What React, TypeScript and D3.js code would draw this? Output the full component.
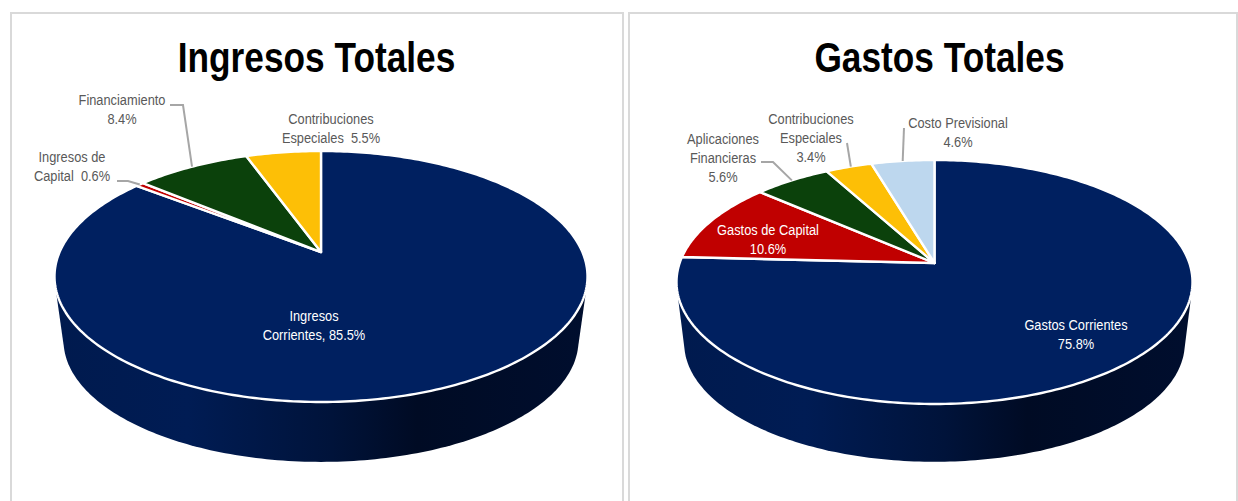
import React, { useEffect, useRef } from 'react'
import * as d3 from 'd3'

// ---- data
const ingresosValues = [85.5, 0.6, 8.4, 5.5]
const ingresosText = [
  ['Ingresos', 'Corrientes, 85.5%'],
  ['Ingresos de', 'Capital  0.6%'],
  ['Financiamiento', '8.4%'],
  ['Contribuciones', 'Especiales  5.5%']
]

const gastosValues = [75.8, 10.6, 5.6, 3.4, 4.6]
const gastosText = [
  ['Gastos Corrientes', '75.8%'],
  ['Gastos de Capital', '10.6%'],
  ['Aplicaciones', 'Financieras', '5.6%'],
  ['Contribuciones', 'Especiales', '3.4%'],
  ['Costo Previsional', '4.6%']
]

const ingresosColors = ['#002060', '#c00000', '#0b410b', '#fdbf06']
const gastosColors = ['#002060', '#c00000', '#0b410b', '#fdbf06', '#bdd7ee']

// no Arial Narrow here, so Liberation Sans squeezed horizontally
const FONT = '"Liberation Sans", Arial, sans-serif'
const NARROW_TITLE = 0.84
const NARROW_LABEL = 0.855

interface IPieLayout {
  title: string
  titleX: number
  panel: [number, number]
  cx: number
  apexY: number
  top: number
  bottom: number
  halfWidth: number
  sideApexY: number
  sideScale: number
  values: number[]
  colors: string[]
  text: string[][]
  // centre x, first baseline y of each label
  labelPos: [number, number][]
  labelFill: string[]
  // elbow points of the leader line, null when the label sits on its slice
  leaders: ([number, number][] | null)[]
  leaderAt: number[]
}

const pies: IPieLayout[] = [
  {
    title: 'Ingresos Totales',
    titleX: 316.5,
    panel: [11, 623],
    cx: 321,
    apexY: 252,
    top: 151,
    bottom: 402,
    halfWidth: 266.5,
    sideApexY: 317,
    sideScale: 0.966,
    values: ingresosValues,
    colors: ingresosColors,
    text: ingresosText,
    labelPos: [[314, 321], [72, 162], [122, 105], [331, 124]],
    labelFill: ['#ffffff', '#595959', '#595959', '#595959'],
    leaders: [null, [[117, 181], [128, 181]], [[170, 105], [183, 105]], null],
    leaderAt: [0, 0.5, 0.5, 0]
  },
  {
    title: 'Gastos Totales',
    titleX: 939.5,
    panel: [629, 1237],
    cx: 934.5,
    apexY: 263,
    top: 160,
    bottom: 404,
    halfWidth: 258,
    sideApexY: 325,
    sideScale: 0.97,
    values: gastosValues,
    colors: gastosColors,
    text: gastosText,
    labelPos: [[1076, 330], [768, 235], [723, 144], [811, 124], [958, 128]],
    labelFill: ['#ffffff', '#ffffff', '#595959', '#595959', '#595959'],
    leaders: [null, null, [[761, 162], [773, 162]], [[847, 143]], [[904, 128]]],
    leaderAt: [0, 0, 0.5, 0.55, 0.5]
  }
]

// Excel style 3D pie: a circle in perspective. The pie centre lands on the apex,
// far rim is squeezed and near rim stretched.
const makeProjection = (p: IPieLayout, apexY: number, scale: number) => {
  const ratio = (p.bottom - p.apexY) / (p.apexY - p.top)
  const k = (ratio - 1) / (ratio + 1)
  const a = p.halfWidth * Math.sqrt(1 - k * k) * scale
  const b = (p.apexY - p.top) * (1 + k) * scale
  return (angle: number, r = 1): [number, number] => {
    const nx = r * Math.sin(angle)
    const ny = r * Math.cos(angle)
    const w = 1 + k * ny
    return [p.cx + a * nx / w, apexY - b * ny / w]
  }
}

const App = () => {
  const ref = useRef<SVGSVGElement>(null)

  useEffect(() => {
    const svg = d3.select(ref.current)
    svg.selectAll('*').remove()
    const defs = svg.append('defs')
    const line = d3.line()

    pies.forEach((p, idx) => {
      const g = svg.append('g')
      // panel frame, open at the bottom of the image
      g.append('path')
        .attr('d', line([[p.panel[0], 501], [p.panel[0], 13], [p.panel[1], 13], [p.panel[1], 501]]))
        .attr('fill', '#ffffff')
        .attr('stroke', '#d9d9d9')
        .attr('stroke-width', 2)

      g.append('text')
        .attr('transform', `translate(${p.titleX},72) scale(${NARROW_TITLE},1)`)
        .attr('text-anchor', 'middle')
        .style('font-family', FONT)
        .style('font-weight', 'bold')
        .style('font-size', '42px')
        .style('fill', '#000000')
        .text(p.title)

      const top = makeProjection(p, p.apexY, 1)
      const base = makeProjection(p, p.sideApexY, p.sideScale)
      const turns = d3.range(0, 361, 1).map(d => d * Math.PI / 180)

      // side wall
      const gradId = `side-${idx}`
      const xs = d3.scaleLinear().domain([p.cx - p.halfWidth, p.cx + p.halfWidth]).range([0, 1])
      const grad = defs.append('linearGradient')
        .attr('id', gradId)
        .attr('gradientUnits', 'userSpaceOnUse')
        .attr('x1', xs.invert(0)).attr('x2', xs.invert(1))
        .attr('y1', 0).attr('y2', 0)
      const stops: [number, string][] = [[0, '#001a4e'], [0.25, '#001c54'], [0.52, '#00133a'], [0.68, '#000b24'], [1, '#000e2e']]
      stops.forEach(([o, c]) => grad.append('stop').attr('offset', o).attr('stop-color', c))
      const hull = d3.polygonHull([...turns.map(t => top(t)), ...turns.map(t => base(t))])
      g.append('path')
        .attr('d', line(hull as [number, number][]) + 'Z')
        .attr('fill', `url(#${gradId})`)

      // top slices
      const arcs = d3.pie<number>().sort(null)(p.values)
      arcs.forEach((a, i) => {
        const n = Math.max(2, Math.ceil((a.endAngle - a.startAngle) * 180 / Math.PI))
        const pts = d3.range(n + 1).map(j => top(a.startAngle + (a.endAngle - a.startAngle) * j / n))
        g.append('path')
          .attr('d', line([[p.cx, p.apexY], ...pts]) + 'Z')
          .attr('fill', p.colors[i])
          .attr('stroke', '#ffffff')
          .attr('stroke-width', 2.4)
          .attr('stroke-linejoin', 'round')
      })

      // leader lines
      arcs.forEach((a, i) => {
        const elbows = p.leaders[i]
        if (!elbows) return
        const end = top(a.startAngle + (a.endAngle - a.startAngle) * p.leaderAt[i])
        g.append('path')
          .attr('d', line([...elbows, end]))
          .attr('fill', 'none')
          .attr('stroke', '#a6a6a6')
          .attr('stroke-width', 2)
      })

      // labels
      p.text.forEach((lines, i) => {
        const t = g.append('text')
          .attr('transform', `translate(${p.labelPos[i][0]},${p.labelPos[i][1]}) scale(${NARROW_LABEL},1)`)
          .attr('text-anchor', 'middle')
          .style('font-family', FONT)
          .style('font-size', '15px')
          .style('fill', p.labelFill[i])
          .style('white-space', 'pre')
        lines.forEach((l, j) => {
          t.append('tspan')
            .attr('x', 0)
            .attr('y', j * 19)
            .text(l)
        })
      })
    })
  }, [])

  return (
    <svg
      ref={ref}
      width={1238}
      height={501}
      style={{ position: 'absolute', left: 0, top: 0, background: '#ffffff' }}
    />
  )
}

export default App
